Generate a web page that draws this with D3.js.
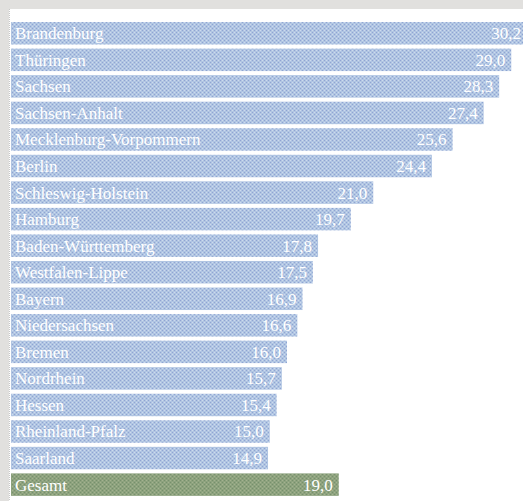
<!DOCTYPE html>
<html><head><meta charset="utf-8">
<script src="https://cdn.jsdelivr.net/npm/d3@7"></script>
<style>html,body{margin:0;padding:0;background:#fff;}svg{display:block;}</style>
</head><body>
<script>
const categories = ["Brandenburg","Thüringen","Sachsen","Sachsen-Anhalt","Mecklenburg-Vorpommern","Berlin","Schleswig-Holstein","Hamburg","Baden-Württemberg","Westfalen-Lippe","Bayern","Niedersachsen","Bremen","Nordrhein","Hessen","Rheinland-Pfalz","Saarland","Gesamt"];
const values = [30.2,29.0,28.3,27.4,25.6,24.4,21.0,19.7,17.8,17.5,16.9,16.6,16.0,15.7,15.4,15.0,14.9,19.0];
const totalLabel = "Gesamt";

const W = 523, H = 501;
const svg = d3.select("body").append("svg").attr("width", W).attr("height", H);

// background frame
svg.append("rect").attr("width", W).attr("height", H).attr("fill", "#e1e0de");
svg.append("rect").attr("x", 9).attr("y", 9).attr("width", W - 9).attr("height", H - 9).attr("fill", "#fff");
svg.append("line").attr("x1", 9.5).attr("x2", 9.5).attr("y1", 9).attr("y2", H)
  .attr("stroke", "#c8c8c8").attr("stroke-width", 1).attr("stroke-dasharray", "1,1");

const defs = svg.append("defs");
function pattern(id, bg, dot, light) {
  const p = defs.append("pattern").attr("id", id).attr("patternUnits", "userSpaceOnUse")
    .attr("width", 4).attr("height", 4);
  p.append("rect").attr("width", 4).attr("height", 4).attr("fill", bg);
  p.append("rect").attr("x", 0).attr("y", 0).attr("width", 1).attr("height", 1).attr("fill", dot);
  p.append("rect").attr("x", 2).attr("y", 2).attr("width", 1).attr("height", 1).attr("fill", dot);
  p.append("rect").attr("x", 2).attr("y", 0).attr("width", 1).attr("height", 1).attr("fill", light);
  p.append("rect").attr("x", 0).attr("y", 2).attr("width", 1).attr("height", 1).attr("fill", light);
}
pattern("pBlue", "#b0c5e2", "#90a4d3", "#cddaee");
pattern("pGreen", "#8da27e", "#76906c", "#a3b28f");

const x = d3.scaleLinear().domain([0, 30]).range([11, 11 + 30 * 17.25]);
const y = d3.scaleBand().domain(categories).range([20, 20 + 18 * 26.55]).paddingInner(0.153).paddingOuter(0.0765);

const g = svg.append("g");
const rows = g.selectAll("g.row").data(categories.map((c, i) => ({c, v: values[i]}))).join("g").attr("class", "row");

rows.append("rect")
  .attr("x", x(0))
  .attr("y", d => y(d.c))
  .attr("width", d => x(d.v) - x(0))
  .attr("height", y.bandwidth())
  .attr("fill", d => d.c === totalLabel ? "url(#pGreen)" : "url(#pBlue)");

rows.append("text")
  .attr("x", 15)
  .attr("y", d => y(d.c) + y.bandwidth() / 2)
  .attr("dy", "0.35em")
  .attr("fill", "#fff")
  .attr("font-family", "Liberation Serif, serif")
  .attr("font-size", 17)
  .text(d => d.c);

rows.append("text")
  .attr("x", d => Math.min(x(d.v) - 6, W - 2))
  .attr("y", d => y(d.c) + y.bandwidth() / 2)
  .attr("dy", "0.35em")
  .attr("text-anchor", "end")
  .attr("fill", "#fff")
  .attr("font-family", "Liberation Serif, serif")
  .attr("font-size", 17)
  .text(d => d3.format(".1f")(d.v).replace(".", ","));
</script>
</body></html>
